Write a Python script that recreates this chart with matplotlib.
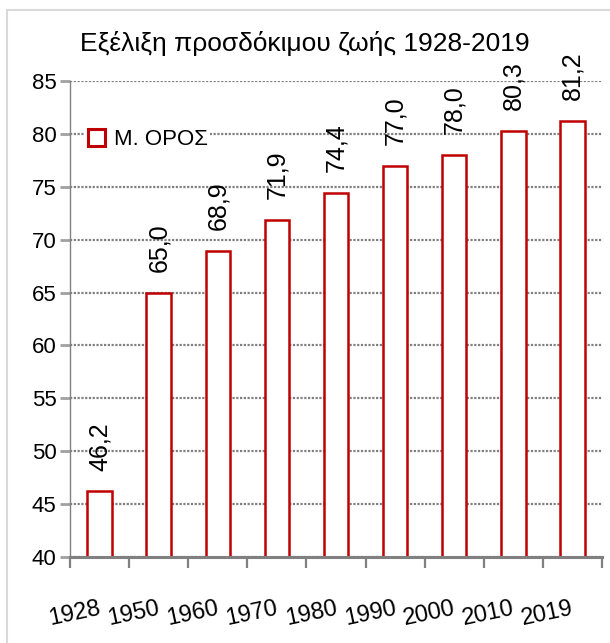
import matplotlib
matplotlib.use("Agg")
import matplotlib.pyplot as plt
from matplotlib.patches import Rectangle

# ---- data ----
categories = ["1928", "1950", "1960", "1970", "1980", "1990", "2000", "2010", "2019"]
values = [46.2, 65.0, 68.9, 71.9, 74.4, 77.0, 78.0, 80.3, 81.2]
yticks = [40, 45, 50, 55, 60, 65, 70, 75, 80, 85]
title = "Εξέλιξη προσδόκιμου ζωής 1928-2019"
series_name = "Μ. ΟΡΟΣ"

FONT = ["Liberation Sans", "DejaVu Sans"]
plt.rcParams["font.family"] = FONT

red = "#C00000"
grey = "#808080"

fig = plt.figure(figsize=(6.10, 6.43), dpi=100)
ax = fig.add_axes([70.3 / 610, (643 - 557) / 643, (601.7 - 70.3) / 610, (557 - 81) / 643])

x = list(range(len(categories)))
ax.bar(x, values, width=0.42, bottom=0, facecolor="white", edgecolor=red,
       linewidth=1.8, zorder=3)

ax.set_xlim(-0.5, len(categories) - 0.5)
ax.set_ylim(40, 85)

# grid
ax.set_yticks(yticks)
ax.set_yticklabels([str(t) for t in yticks], fontsize=16)
ax.yaxis.grid(True, color=grey, linestyle=(0, (1.0, 0.7)), linewidth=1.6, zorder=1)
ax.set_axisbelow(True)

# x ticks at category boundaries
ax.set_xticks([i - 0.5 for i in range(len(categories) + 1)])
ax.set_xticklabels([])
ax.tick_params(axis="x", direction="out", length=8, width=1.6, color=grey)
ax.tick_params(axis="y", direction="out", length=7, width=2, color="#a0a0a0", pad=3)

for s in ["top", "right"]:
    ax.spines[s].set_visible(False)
ax.spines["left"].set_color(grey)
ax.spines["left"].set_linewidth(1.0)
ax.spines["bottom"].set_color(grey)
ax.spines["bottom"].set_linewidth(2.2)
ax.spines["bottom"].set_zorder(4)

# x labels (slightly rotated, right-anchored at category centre)
for i, lab in enumerate(categories):
    ax.annotate(lab, xy=(i, 0), xycoords=("data", "axes fraction"),
                xytext=(-1, -29), textcoords="offset points",
                rotation=12, rotation_mode="anchor", ha="right", va="top",
                fontsize=17, annotation_clip=False)

# value labels
for i, v in enumerate(values):
    ax.annotate(f"{v:.1f}".replace(".", ","), xy=(i, v), xytext=(0, 15),
                textcoords="offset points", rotation=90, ha="center", va="bottom",
                fontsize=18, annotation_clip=False, zorder=5)

# legend
handle = Rectangle((0, 0), 1, 1, facecolor="white", edgecolor=red, linewidth=2.2)
leg = ax.legend([handle], [series_name], loc="upper left",
                bbox_to_anchor=(15 / 531.4, (557 - 127) / 476), frameon=True,
                fontsize=16, handlelength=0.8, handleheight=0.8, handletextpad=0.4,
                borderpad=0.1, borderaxespad=0)
leg.get_frame().set_facecolor("white")
leg.get_frame().set_edgecolor("none")
leg.get_frame().set_alpha(1)

# title
fig.text(305 / 610, 1 - 44 / 643, title, ha="center", va="center", fontsize=19)

# light grey outer border (chart area frame)
fig.add_artist(Rectangle((7 / 610, -0.05), 1.2, 1 - 10 / 643 + 0.05,
                         transform=fig.transFigure, facecolor="none",
                         edgecolor="#d9d9d9", linewidth=1.5))

fig.savefig("out.png", dpi=100)
